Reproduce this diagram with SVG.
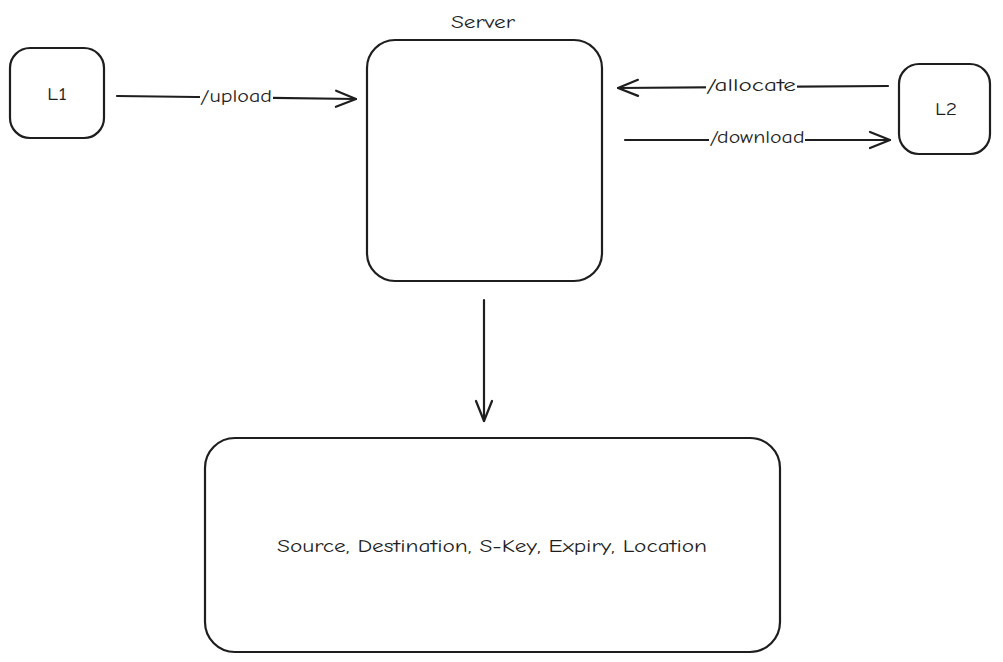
<svg xmlns="http://www.w3.org/2000/svg" width="1003" height="662" viewBox="0 0 1003 662">
<style>
.box{fill:#fff;stroke:#1e1e1e;stroke-width:2.2}
.ln{fill:none;stroke:#1e1e1e;stroke-width:2.2;stroke-linecap:round}
.t{font-family:"Comic Neue","Liberation Sans",sans-serif;font-size:19px;fill:#1e1e1e;text-anchor:middle;dominant-baseline:central}
.lb{fill:#fff}
</style>
<defs>
<marker id="ah" viewBox="-22 -10 24 20" refX="0" refY="0" markerWidth="24" markerHeight="20" markerUnits="userSpaceOnUse" orient="auto">
<path d="M -20 -8 L 0 0 L -20 8" fill="none" stroke="#1e1e1e" stroke-width="2.2" stroke-linecap="round" stroke-linejoin="round"/>
</marker>
</defs>
<rect width="1003" height="662" fill="#fff"/>
<g id="L1"><rect class="box" x="10" y="48" width="94" height="90" rx="20"/><text class="t" x="57" y="94" textLength="20" lengthAdjust="spacingAndGlyphs">L1</text></g>
<g id="Server"><rect class="box" x="367" y="40" width="235" height="241" rx="28"/><text class="t" x="483" y="22" textLength="64" lengthAdjust="spacingAndGlyphs">Server</text></g>
<g id="L2"><rect class="box" x="899" y="64" width="91" height="90" rx="20"/><text class="t" x="946" y="109" textLength="22" lengthAdjust="spacingAndGlyphs">L2</text></g>
<g id="Store"><rect class="box" x="205" y="438" width="575" height="214" rx="30"/><text class="t" x="492" y="546" textLength="430" lengthAdjust="spacingAndGlyphs">Source, Destination, S-Key, Expiry, Location</text></g>
<g id="connectors">
<g id="e-upload"><path class="ln" d="M 117 96 L 356 99" marker-end="url(#ah)"/><rect class="lb" x="200" y="86" width="73" height="22"/><text class="t" x="236" y="96" textLength="72" lengthAdjust="spacingAndGlyphs">/upload</text></g>
<g id="e-allocate"><path class="ln" d="M 888 86 L 618 88" marker-end="url(#ah)"/><rect class="lb" x="706" y="76" width="91" height="22"/><text class="t" x="751" y="85" textLength="90" lengthAdjust="spacingAndGlyphs">/allocate</text></g>
<g id="e-download"><path class="ln" d="M 625 140 L 890 140" marker-end="url(#ah)"/><rect class="lb" x="709" y="128" width="96" height="22"/><text class="t" x="757" y="137" textLength="95" lengthAdjust="spacingAndGlyphs">/download</text></g>
<g id="e-store"><path class="ln" d="M 484 300 L 484 421" marker-end="url(#ah)"/></g>
</g>
</svg>
